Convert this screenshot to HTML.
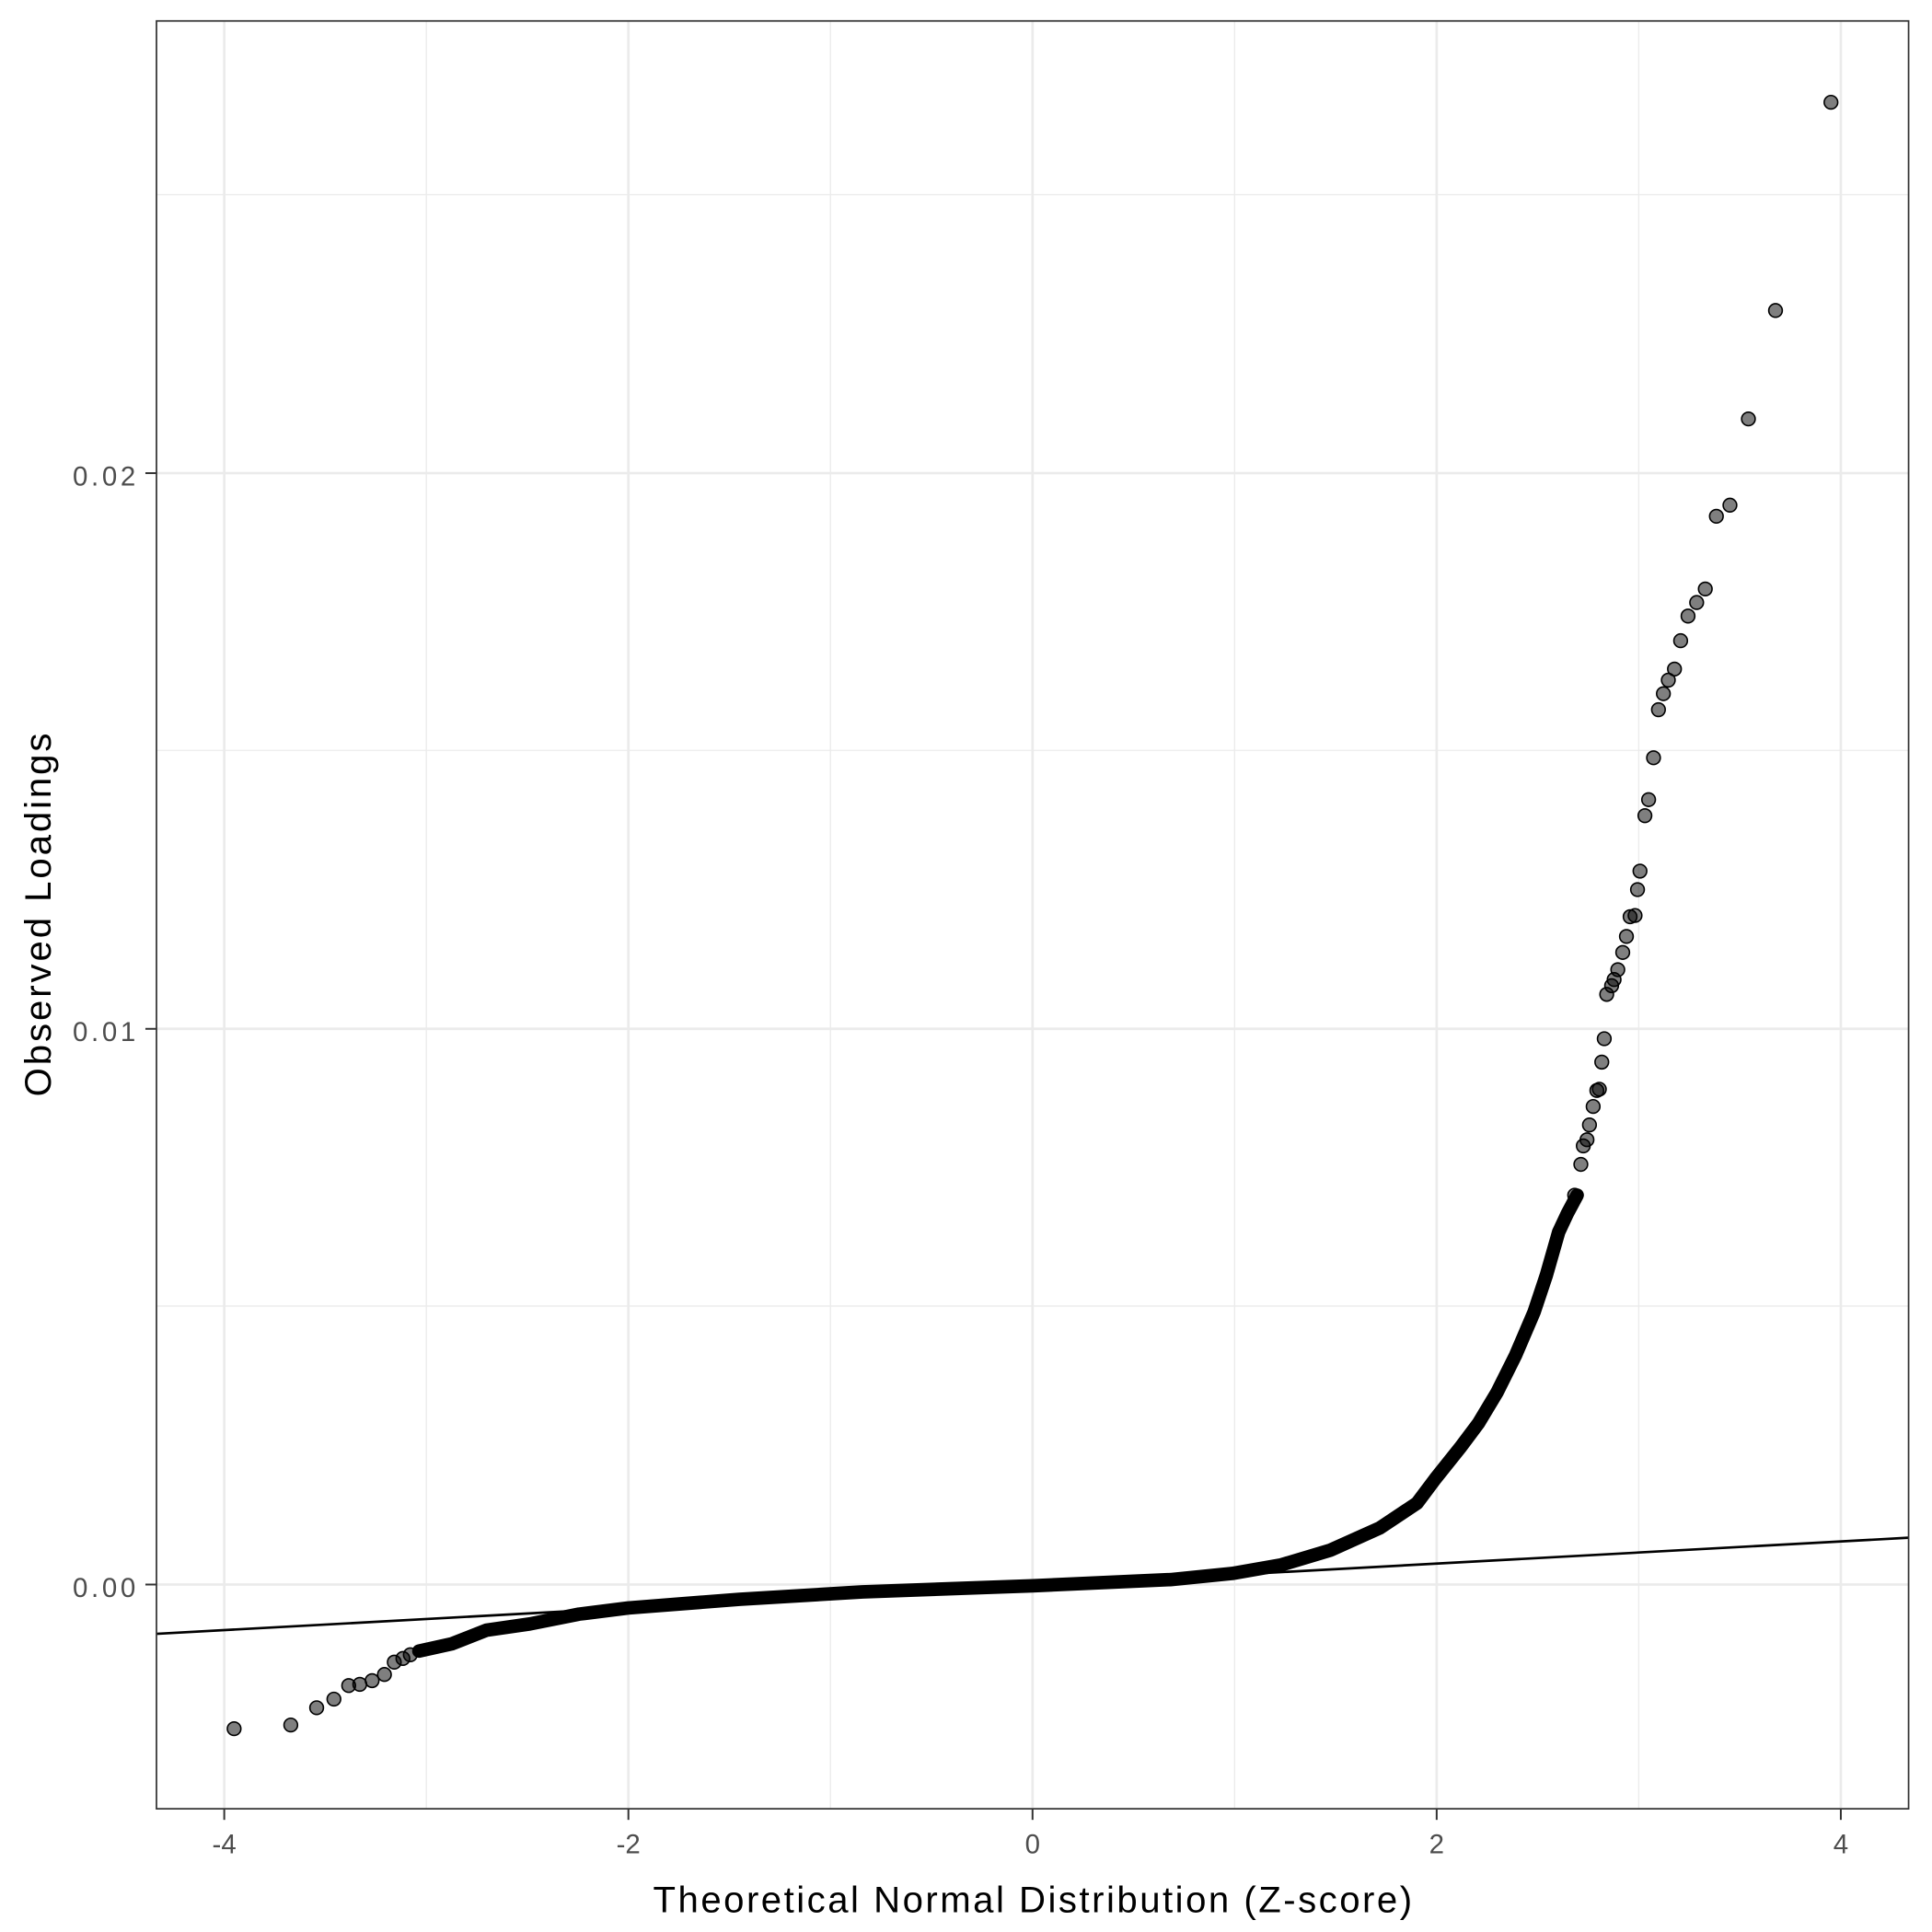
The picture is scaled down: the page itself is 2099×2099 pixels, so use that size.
<!DOCTYPE html>
<html><head><meta charset="utf-8"><style>html,body{margin:0;padding:0;background:#fff}svg{display:block}</style></head>
<body>
<svg width="2099" height="2099" viewBox="0 0 1568 1568" xmlns="http://www.w3.org/2000/svg" font-family="Liberation Sans, sans-serif">
<rect width="1568" height="1568" fill="#fff"/>
<g stroke="#ebebeb" stroke-width="1">
<line x1="346" y1="17" x2="346" y2="1468"/><line x1="674" y1="17" x2="674" y2="1468"/><line x1="1002" y1="17" x2="1002" y2="1468"/><line x1="1330" y1="17" x2="1330" y2="1468"/>
<line x1="127" y1="1060" x2="1549" y2="1060"/><line x1="127" y1="609" x2="1549" y2="609"/><line x1="127" y1="158" x2="1549" y2="158"/>
</g>
<g stroke="#ebebeb" stroke-width="2">
<line x1="182" y1="17" x2="182" y2="1468"/><line x1="510" y1="17" x2="510" y2="1468"/><line x1="838" y1="17" x2="838" y2="1468"/><line x1="1166" y1="17" x2="1166" y2="1468"/><line x1="1494" y1="17" x2="1494" y2="1468"/>
<line x1="127" y1="384" x2="1549" y2="384"/><line x1="127" y1="835" x2="1549" y2="835"/><line x1="127" y1="1286" x2="1549" y2="1286"/>
</g>
<polyline fill="none" stroke="#000" stroke-width="11" stroke-linejoin="round" stroke-linecap="round" points="340,1340 367,1334 395,1323 430,1318 470,1310 510,1305 600,1298 700,1292 838,1287 950,1282 1000,1277 1040,1270 1080,1258 1120,1240 1150,1220 1165,1200 1185,1175 1200,1155 1215,1130 1230,1100 1245,1065 1255,1035 1265,1000 1272,985 1280,970"/>
<g fill="rgba(0,0,0,0.5)" stroke="#000" stroke-width="1.2">
<circle cx="190" cy="1403" r="5.5"/><circle cx="236" cy="1400" r="5.5"/><circle cx="257" cy="1386" r="5.5"/><circle cx="271" cy="1379" r="5.5"/><circle cx="283" cy="1368" r="5.5"/><circle cx="292" cy="1367" r="5.5"/><circle cx="302" cy="1364" r="5.5"/><circle cx="312" cy="1359" r="5.5"/><circle cx="320" cy="1349" r="5.5"/><circle cx="327" cy="1346" r="5.5"/><circle cx="333" cy="1343" r="5.5"/>
<circle cx="1278" cy="970" r="5.5"/><circle cx="1283" cy="945" r="5.5"/><circle cx="1285" cy="930" r="5.5"/><circle cx="1288" cy="925" r="5.5"/><circle cx="1290" cy="913" r="5.5"/><circle cx="1293" cy="898" r="5.5"/><circle cx="1296" cy="885" r="5.5"/><circle cx="1298" cy="884" r="5.5"/><circle cx="1300" cy="862" r="5.5"/><circle cx="1302" cy="843" r="5.5"/><circle cx="1304" cy="807" r="5.5"/><circle cx="1308" cy="800" r="5.5"/><circle cx="1310" cy="795" r="5.5"/><circle cx="1313" cy="787" r="5.5"/><circle cx="1317" cy="773" r="5.5"/><circle cx="1320" cy="760" r="5.5"/><circle cx="1323" cy="744" r="5.5"/><circle cx="1327" cy="743" r="5.5"/><circle cx="1329" cy="722" r="5.5"/><circle cx="1331" cy="707" r="5.5"/><circle cx="1335" cy="662" r="5.5"/><circle cx="1338" cy="649" r="5.5"/><circle cx="1342" cy="615" r="5.5"/><circle cx="1346" cy="576" r="5.5"/><circle cx="1350" cy="563" r="5.5"/><circle cx="1354" cy="552" r="5.5"/><circle cx="1359" cy="543" r="5.5"/><circle cx="1364" cy="520" r="5.5"/><circle cx="1370" cy="500" r="5.5"/><circle cx="1377" cy="489" r="5.5"/><circle cx="1384" cy="478" r="5.5"/><circle cx="1393" cy="419" r="5.5"/><circle cx="1404" cy="410" r="5.5"/><circle cx="1419" cy="340" r="5.5"/><circle cx="1441" cy="252" r="5.5"/><circle cx="1486" cy="83" r="5.5"/>
</g>
<line x1="127" y1="1326" x2="1549" y2="1248" stroke="#000" stroke-width="2"/>
<rect x="127" y="17" width="1422" height="1451" fill="none" stroke="#333" stroke-width="1.3"/>
<g stroke="#333" stroke-width="1.5">
<line x1="182" y1="1468" x2="182" y2="1477"/><line x1="510" y1="1468" x2="510" y2="1477"/><line x1="838" y1="1468" x2="838" y2="1477"/><line x1="1166" y1="1468" x2="1166" y2="1477"/><line x1="1494" y1="1468" x2="1494" y2="1477"/>
<line x1="118" y1="384" x2="127" y2="384"/><line x1="118" y1="835" x2="127" y2="835"/><line x1="118" y1="1286" x2="127" y2="1286"/>
</g>
<g fill="#4d4d4d" font-size="22" text-anchor="middle">
<text x="182" y="1504">-4</text><text x="510" y="1504">-2</text><text x="838" y="1504">0</text><text x="1166" y="1504">2</text><text x="1494" y="1504">4</text>
</g>
<g fill="#4d4d4d" font-size="22">
<text x="59" y="394" textLength="51">0.02</text><text x="59" y="845" textLength="51">0.01</text><text x="59" y="1296" textLength="51">0.00</text>
</g>
<text x="530" y="1552" font-size="30" textLength="616" fill="#000">Theoretical Normal Distribution (Z-score)</text>
<text transform="translate(41,890) rotate(-90)" font-size="30" textLength="295" fill="#000">Observed Loadings</text>
</svg>
</body></html>
